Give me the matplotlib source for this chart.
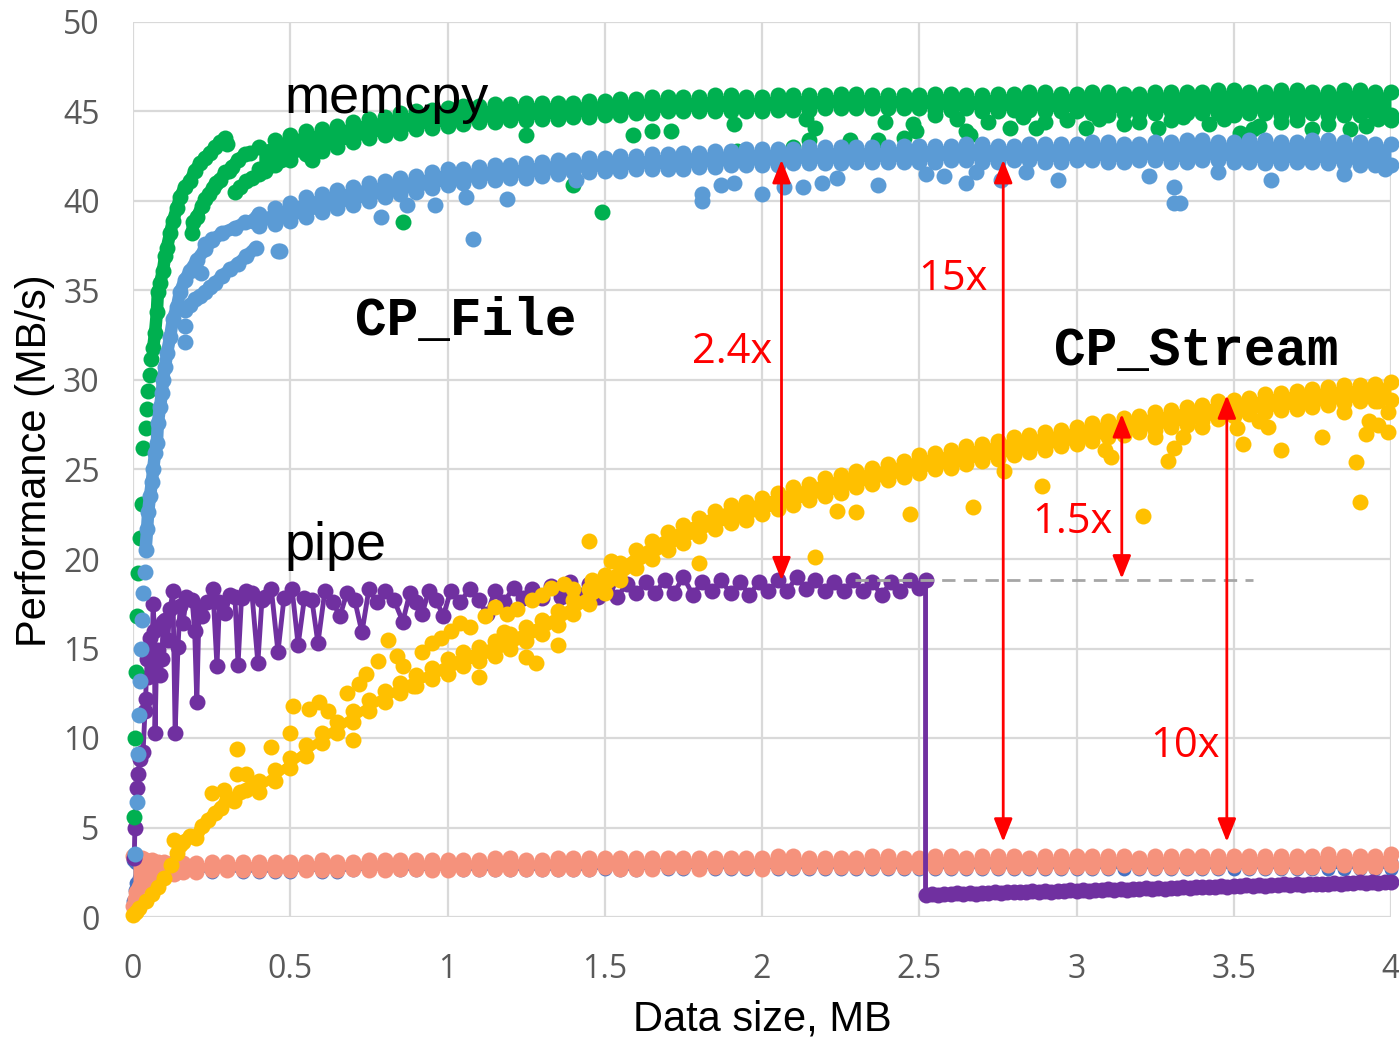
import matplotlib
matplotlib.use("Agg")
import matplotlib.pyplot as plt

# ---------------- data ----------------
x_ticks = [0, 0.5, 1, 1.5, 2, 2.5, 3, 3.5, 4]
x_tick_labels = ["0", "0.5", "1", "1.5", "2", "2.5", "3", "3.5", "4"]
y_ticks = [0, 5, 10, 15, 20, 25, 30, 35, 40, 45, 50]

# common data-size grid for the dense right-hand part of each series (MB)
grid_x = [0.40, 0.45, 0.50, 0.55, 0.60, 0.65, 0.70, 0.75, 0.80, 0.85,
          0.90, 0.95, 1.00, 1.05, 1.10, 1.15, 1.20, 1.25, 1.30, 1.35,
          1.40, 1.45, 1.50, 1.55, 1.60, 1.65, 1.70, 1.75, 1.80, 1.85,
          1.90, 1.95, 2.00, 2.05, 2.10, 2.15, 2.20, 2.25, 2.30, 2.35,
          2.40, 2.45, 2.50, 2.55, 2.60, 2.65, 2.70, 2.75, 2.80, 2.85,
          2.90, 2.95, 3.00, 3.05, 3.10, 3.15, 3.20, 3.25, 3.30, 3.35,
          3.40, 3.45, 3.50, 3.55, 3.60, 3.65, 3.70, 3.75, 3.80, 3.85,
          3.90, 3.95, 4.00]

# memcpy (green)
memcpy_rise_x = [0.003, 0.006, 0.010, 0.013, 0.016, 0.022, 0.029, 0.032, 0.041, 0.045,
                 0.048, 0.054, 0.057, 0.064, 0.070, 0.076, 0.079, 0.086, 0.095, 0.102,
                 0.108, 0.118, 0.127, 0.140, 0.149, 0.165, 0.181, 0.197, 0.213, 0.229,
                 0.245, 0.261, 0.277, 0.293, 0.300]
memcpy_rise_y = [5.6, 10.0, 13.7, 16.8, 19.2, 21.2, 23.1, 26.2, 27.3, 28.4,
                 29.4, 30.3, 31.2, 31.8, 32.6, 33.8, 34.9, 35.4, 36.1, 36.9,
                 37.4, 38.2, 38.9, 39.6, 40.2, 40.8, 41.1, 41.7, 42.1, 42.4,
                 42.7, 43.0, 43.3, 43.5, 43.2]
memcpy_branch_x = [0.188, 0.191, 0.203, 0.219, 0.229, 0.241, 0.254, 0.265, 0.277, 0.293,
                   0.304, 0.315, 0.334, 0.356, 0.372, 0.324, 0.340, 0.360, 0.378, 0.400,
                   0.420, 0.440, 0.461]
memcpy_branch_y = [38.2, 38.8, 39.1, 39.7, 40.1, 40.4, 40.7, 41.0, 41.2, 41.6,
                   41.7, 41.9, 42.3, 42.6, 42.7, 40.5, 40.8, 41.1, 41.3, 41.5,
                   41.7, 42.0, 43.2]
memcpy_hi = [43.0, 43.4, 43.7, 43.9, 44.0, 44.2, 44.4, 44.6, 44.7, 44.9,
             45.0, 45.1, 45.2, 45.3, 45.3, 45.4, 45.4, 45.5, 45.5, 45.5,
             45.5, 45.6, 45.6, 45.7, 45.7, 45.8, 45.8, 45.8, 45.8, 45.9,
             45.9, 45.8, 45.8, 45.9, 45.9, 45.9, 45.9, 46.0, 46.0, 45.9,
             45.9, 45.9, 45.9, 46.0, 46.0, 45.9, 45.9, 46.0, 46.0, 46.1,
             46.1, 46.0, 46.0, 46.1, 46.1, 46.0, 46.0, 46.1, 46.1, 46.1,
             46.1, 46.2, 46.2, 46.1, 46.1, 46.2, 46.2, 46.1, 46.1, 46.2,
             46.2, 46.1, 46.1]
memcpy_lo = [41.8, 42.0, 42.3, 42.6, 42.8, 43.0, 43.3, 43.5, 43.7, 43.8,
             44.0, 44.1, 44.2, 44.3, 44.4, 44.4, 44.5, 44.5, 44.6, 44.6,
             44.7, 44.7, 44.8, 44.8, 44.9, 44.9, 45.0, 45.0, 45.0, 45.0,
             45.0, 45.0, 45.0, 45.1, 45.1, 45.1, 45.2, 45.2, 45.2, 45.2,
             45.2, 45.2, 45.2, 45.1, 45.1, 45.2, 45.0, 45.0, 45.1, 45.1,
             45.0, 45.0, 45.0, 44.9, 45.0, 44.9, 44.9, 44.9, 45.0, 44.9,
             44.9, 44.9, 44.8, 44.9, 44.9, 44.8, 44.8, 44.9, 44.8, 44.8,
             44.8, 44.8, 44.8]
memcpy_out_x = [0.47, 0.57, 0.86, 1.25, 1.40, 1.49, 1.59, 1.65, 1.71, 1.91,
                1.92, 2.10, 2.14, 2.15, 2.17, 2.28, 2.37, 2.39, 2.45, 2.48,
                2.49, 2.65, 2.66, 2.72, 2.79, 2.87, 2.90, 3.03, 3.10, 3.20,
                3.26, 3.34, 3.52, 3.65, 3.75, 3.87, 3.96, 2.55, 2.62, 2.83,
                2.97, 3.07, 3.15, 3.30, 3.42, 3.47, 3.58, 3.70, 3.80, 3.92,
                4.00, 3.56]
memcpy_out_y = [42.3, 42.3, 38.8, 43.7, 40.9, 39.4, 43.7, 43.9, 43.9, 44.3,
                42.8, 43.0, 44.6, 43.4, 44.1, 43.4, 43.4, 44.4, 43.5, 44.3,
                43.9, 43.9, 43.7, 44.4, 44.1, 44.1, 44.4, 44.1, 44.8, 44.4,
                44.1, 44.7, 43.8, 44.4, 44.0, 44.0, 44.6, 44.8, 44.6, 44.7,
                44.5, 44.6, 44.3, 44.5, 44.3, 44.6, 44.2, 44.5, 44.3, 44.2,
                44.5, 44.0]

# CP_File (light blue)
cpfile_rise_x = [0.006, 0.013, 0.016, 0.018, 0.022, 0.026, 0.030, 0.032, 0.038, 0.040,
                 0.045, 0.048, 0.054, 0.060, 0.064, 0.070, 0.076, 0.079, 0.086, 0.092,
                 0.095, 0.102, 0.108, 0.118, 0.127, 0.140, 0.149, 0.165, 0.181, 0.203,
                 0.229, 0.251, 0.283, 0.324, 0.356, 0.380]
cpfile_rise_y = [3.5, 6.4, 9.1, 11.3, 13.2, 15.0, 16.6, 18.1, 19.3, 20.5,
                 21.7, 22.6, 23.5, 24.3, 25.0, 25.9, 26.5, 27.6, 28.5, 29.3,
                 30.0, 30.7, 31.5, 32.4, 33.4, 34.1, 34.9, 35.6, 36.1, 36.7,
                 37.3, 37.8, 38.2, 38.5, 38.8, 38.9]
cpfile_low_x = [0.165, 0.165, 0.165, 0.181, 0.197, 0.213, 0.229, 0.245, 0.260, 0.283,
                0.310, 0.334, 0.360, 0.390, 0.461, 0.230, 0.250, 0.215]
cpfile_low_y = [33.9, 33.0, 32.1, 34.2, 34.5, 34.7, 34.9, 35.2, 35.4, 35.8,
                36.2, 36.5, 36.9, 37.4, 37.2, 37.6, 37.9, 36.0]
cpfile_hi = [39.3, 39.6, 39.9, 40.2, 40.4, 40.6, 40.8, 41.0, 41.1, 41.3,
             41.4, 41.6, 41.8, 41.8, 41.9, 42.0, 42.0, 42.1, 42.2, 42.3,
             42.3, 42.4, 42.4, 42.5, 42.5, 42.6, 42.6, 42.7, 42.7, 42.8,
             42.8, 42.9, 42.9, 42.9, 42.9, 43.0, 43.0, 43.0, 43.0, 43.0,
             43.0, 43.1, 43.1, 43.1, 43.1, 43.2, 43.2, 43.1, 43.1, 43.2,
             43.2, 43.2, 43.2, 43.3, 43.3, 43.2, 43.2, 43.3, 43.3, 43.4,
             43.4, 43.3, 43.3, 43.4, 43.4, 43.3, 43.3, 43.4, 43.4, 43.3,
             43.3, 43.2, 43.2]
cpfile_lo = [38.6, 38.7, 38.9, 39.1, 39.4, 39.6, 39.8, 40.0, 40.2, 40.4,
             40.5, 40.7, 40.9, 41.0, 41.1, 41.2, 41.3, 41.3, 41.4, 41.5,
             41.6, 41.6, 41.7, 41.7, 41.8, 41.8, 41.8, 41.8, 41.9, 41.9,
             42.0, 42.0, 42.0, 42.0, 42.1, 42.1, 42.1, 42.1, 42.2, 42.2,
             42.2, 42.2, 42.2, 42.2, 42.3, 42.3, 42.2, 42.2, 42.3, 42.3,
             42.2, 42.2, 42.3, 42.3, 42.2, 42.2, 42.3, 42.3, 42.2, 42.2,
             42.3, 42.3, 42.2, 42.2, 42.1, 42.1, 42.2, 42.2, 42.1, 42.1,
             42.0, 42.0, 42.0]
cpfile_out_x = [0.467, 0.79, 0.87, 0.96, 1.06, 1.08, 1.19, 1.41, 1.81, 1.81,
                1.87, 1.91, 2.00, 2.07, 2.13, 2.19, 2.24, 2.37, 2.52, 2.58,
                2.65, 2.68, 2.76, 2.84, 2.94, 3.23, 3.31, 3.31, 3.33, 3.45,
                3.62, 3.85, 3.98]
cpfile_out_y = [37.2, 39.1, 39.8, 39.8, 40.2, 37.9, 40.1, 41.2, 40.4, 40.0,
                40.9, 41.0, 40.4, 40.8, 40.8, 41.0, 41.3, 40.9, 41.5, 41.4,
                41.0, 41.6, 41.2, 41.6, 41.2, 41.4, 40.8, 39.9, 39.9, 41.6,
                41.2, 41.5, 41.8]

# CP_Stream (yellow)
cpstream_rise_x = [0.000, 0.010, 0.020, 0.040, 0.060, 0.080, 0.100, 0.120, 0.140, 0.160,
                   0.180, 0.200, 0.220, 0.240, 0.260, 0.280, 0.300, 0.320, 0.340, 0.360,
                   0.380]
cpstream_rise_y = [0.1, 0.3, 0.5, 0.9, 1.3, 1.7, 2.2, 2.9, 3.6, 4.2,
                   4.5, 4.4, 5.1, 5.4, 5.8, 6.1, 6.6, 6.5, 7.0, 7.1,
                   7.4]
cpstream_hi = [7.6, 8.2, 8.9, 9.6, 10.3, 10.9, 11.5, 12.1, 12.6, 13.1,
               13.5, 13.9, 14.4, 14.8, 15.1, 15.4, 15.8, 16.2, 16.6, 17.1,
               17.7, 18.3, 19.1, 19.8, 20.5, 21.0, 21.5, 21.9, 22.3, 22.7,
               23.0, 23.2, 23.4, 23.7, 24.0, 24.2, 24.5, 24.7, 24.9, 25.1,
               25.3, 25.5, 25.8, 25.9, 26.1, 26.3, 26.4, 26.6, 26.8, 26.9,
               27.1, 27.2, 27.4, 27.6, 27.7, 27.9, 28.0, 28.2, 28.3, 28.5,
               28.6, 28.8, 28.9, 29.0, 29.2, 29.3, 29.4, 29.5, 29.6, 29.7,
               29.7, 29.8, 29.9]
cpstream_lo = [7.0, 7.6, 8.3, 9.0, 9.7, 10.3, 10.9, 11.5, 12.0, 12.5,
               12.9, 13.3, 13.6, 14.0, 14.3, 14.6, 15.0, 15.4, 15.8, 16.3,
               16.9, 17.5, 18.1, 18.8, 19.5, 20.0, 20.5, 20.9, 21.3, 21.7,
               22.0, 22.2, 22.5, 22.8, 23.0, 23.3, 23.5, 23.7, 24.0, 24.2,
               24.4, 24.6, 24.8, 25.0, 25.1, 25.3, 25.5, 25.6, 25.8, 26.0,
               26.1, 26.3, 26.4, 26.6, 26.8, 26.9, 27.1, 27.2, 27.4, 27.5,
               27.7, 27.8, 28.0, 28.1, 28.2, 28.3, 28.4, 28.5, 28.6, 28.7,
               28.8, 28.8, 28.9]
cpstream_out_x = [0.13, 0.15, 0.25, 0.29, 0.33, 0.36, 0.33, 0.44, 0.50, 0.51,
                  0.56, 0.59, 0.62, 0.68, 0.70, 0.72, 0.74, 0.78, 0.81, 0.84,
                  0.86, 0.89, 0.92, 0.95, 0.98, 1.01, 1.04, 1.07, 1.10, 1.12,
                  1.15, 1.18, 1.19, 1.22, 1.25, 1.27, 1.28, 1.30, 1.33, 1.35,
                  1.37, 1.40, 1.45, 1.46, 1.52, 1.80, 2.17, 2.24, 2.30, 2.47,
                  2.67, 2.77, 2.89, 3.09, 3.11, 3.21, 3.25, 3.29, 3.31, 3.34,
                  3.40, 3.51, 3.53, 3.58, 3.61, 3.65, 3.78, 3.85, 3.89, 3.90,
                  3.92, 3.93, 3.96, 3.99, 3.99, 3.96]
cpstream_out_y = [4.3, 4.0, 6.9, 7.1, 8.0, 8.0, 9.4, 9.5, 10.3, 11.8,
                  11.6, 12.0, 11.5, 12.5, 9.9, 13.0, 13.6, 14.3, 15.5, 14.6,
                  14.0, 12.9, 14.8, 15.3, 15.6, 16.0, 16.4, 16.2, 13.4, 16.8,
                  17.3, 15.9, 16.9, 17.2, 14.5, 17.7, 14.2, 18.0, 18.4, 15.2,
                  18.6, 18.3, 21.0, 18.8, 19.9, 19.8, 20.1, 22.7, 22.6, 22.5,
                  22.9, 24.9, 24.1, 26.1, 25.7, 22.4, 26.8, 25.5, 26.2, 26.8,
                  27.4, 27.3, 26.4, 27.7, 27.4, 26.1, 26.8, 28.2, 25.4, 23.2,
                  27.0, 27.7, 27.5, 27.1, 28.2, 28.8]

# pipe (purple, connected): high part, then the low part after the drop
pipe_x = [0.004, 0.006, 0.013, 0.016, 0.022, 0.032, 0.038, 0.040, 0.045, 0.048,
          0.054, 0.060, 0.064, 0.068, 0.070, 0.075, 0.080, 0.086, 0.092, 0.096,
          0.102, 0.110, 0.118, 0.127, 0.134, 0.143, 0.150, 0.159, 0.170, 0.188,
          0.196, 0.203, 0.210, 0.219, 0.235, 0.254, 0.267, 0.275, 0.293, 0.310,
          0.324, 0.334, 0.345, 0.360, 0.378, 0.397, 0.410, 0.420, 0.440, 0.461,
          0.480, 0.506, 0.525, 0.545, 0.569, 0.588, 0.610, 0.635, 0.658, 0.680,
          0.705, 0.728, 0.750, 0.775, 0.800, 0.830, 0.858, 0.880, 0.900, 0.919,
          0.940, 0.965, 0.986, 1.010, 1.040, 1.070, 1.100, 1.126, 1.150, 1.180,
          1.210, 1.240, 1.270, 1.300, 1.330, 1.360, 1.390, 1.420, 1.450, 1.480,
          1.510, 1.540, 1.570, 1.600, 1.630, 1.660, 1.690, 1.720, 1.750, 1.780,
          1.810, 1.840, 1.870, 1.900, 1.930, 1.960, 1.990, 2.020, 2.050, 2.080,
          2.110, 2.140, 2.170, 2.200, 2.230, 2.260, 2.290, 2.320, 2.350, 2.380,
          2.410, 2.440, 2.470, 2.500, 2.520]
pipe_y = [3.3, 5.0, 7.2, 8.0, 8.8, 9.2, 11.5, 12.2, 14.4, 13.4,
          15.6, 14.2, 17.5, 16.0, 10.3, 14.5, 14.9, 13.5, 14.4, 16.5,
          16.6, 15.5, 17.2, 18.2, 10.3, 15.1, 17.4, 16.4, 17.9, 17.7,
          16.0, 12.0, 17.2, 16.8, 17.6, 18.3, 14.0, 17.6, 17.0, 18.0,
          17.9, 14.1, 17.8, 18.2, 18.1, 14.2, 17.7, 17.9, 18.3, 14.8,
          17.8, 18.3, 15.2, 17.8, 17.7, 15.3, 18.2, 17.6, 16.8, 18.1,
          17.7, 15.9, 18.3, 17.6, 18.2, 17.7, 16.5, 18.1, 17.6, 16.9,
          18.2, 17.7, 16.8, 18.2, 17.6, 18.3, 17.7, 16.9, 18.2, 17.6,
          18.4, 17.8, 18.3, 17.8, 18.5, 17.9, 18.7, 18.0, 18.6, 17.9,
          18.6, 17.9, 18.6, 18.1, 18.7, 18.1, 18.8, 18.1, 19.0, 18.0,
          18.7, 18.2, 18.8, 18.1, 18.7, 18.0, 18.7, 18.2, 18.8, 18.2,
          19.0, 18.3, 18.8, 18.2, 18.7, 18.2, 18.8, 18.2, 18.7, 18.0,
          18.7, 18.2, 18.8, 18.4, 18.8]
pipe_low_x = [2.52, 2.54, 2.56, 2.58, 2.60, 2.62, 2.64, 2.66, 2.68, 2.70,
              2.72, 2.74, 2.76, 2.78, 2.80, 2.82, 2.84, 2.86, 2.88, 2.90,
              2.92, 2.94, 2.96, 2.98, 3.00, 3.02, 3.04, 3.06, 3.08, 3.10,
              3.12, 3.14, 3.16, 3.18, 3.20, 3.22, 3.24, 3.26, 3.28, 3.30,
              3.32, 3.34, 3.36, 3.38, 3.40, 3.42, 3.44, 3.46, 3.48, 3.50,
              3.52, 3.54, 3.56, 3.58, 3.60, 3.62, 3.64, 3.66, 3.68, 3.70,
              3.72, 3.74, 3.76, 3.78, 3.80, 3.82, 3.84, 3.86, 3.88, 3.90,
              3.92, 3.94, 3.96, 3.98, 4.00]
pipe_low_y = [1.25, 1.30, 1.24, 1.29, 1.28, 1.33, 1.28, 1.33, 1.31, 1.36,
              1.33, 1.38, 1.34, 1.39, 1.37, 1.41, 1.38, 1.43, 1.41, 1.45,
              1.42, 1.47, 1.44, 1.49, 1.46, 1.51, 1.48, 1.53, 1.50, 1.55,
              1.52, 1.57, 1.53, 1.58, 1.56, 1.60, 1.57, 1.62, 1.59, 1.64,
              1.61, 1.66, 1.63, 1.68, 1.65, 1.70, 1.67, 1.72, 1.69, 1.74,
              1.71, 1.76, 1.72, 1.77, 1.75, 1.79, 1.77, 1.82, 1.79, 1.84,
              1.81, 1.86, 1.82, 1.87, 1.85, 1.89, 1.86, 1.91, 1.88, 1.93,
              1.90, 1.95, 1.92, 1.97, 1.96]

# low series: salmon and dark blue
salmon_rise_x = [0.000, 0.005, 0.010, 0.020, 0.030, 0.040, 0.060, 0.080, 0.100, 0.130,
                 0.160, 0.200, 0.250, 0.300, 0.350]
salmon_rise_hi = [3.4, 3.4, 3.3, 3.3, 3.3, 3.2, 3.2, 3.1, 3.1, 3.1,
                  3.0, 3.0, 3.1, 3.1, 3.1]
salmon_rise_lo = [0.6, 1.0, 1.4, 1.7, 1.9, 2.0, 2.2, 2.3, 2.4, 2.4,
                  2.5, 2.5, 2.6, 2.6, 2.6]
salmon_hi = [3.1, 3.1, 3.1, 3.1, 3.2, 3.1, 3.1, 3.2, 3.2, 3.2,
             3.2, 3.2, 3.2, 3.2, 3.2, 3.3, 3.3, 3.2, 3.2, 3.3,
             3.3, 3.3, 3.3, 3.3, 3.3, 3.3, 3.3, 3.3, 3.3, 3.3,
             3.3, 3.3, 3.3, 3.4, 3.4, 3.3, 3.3, 3.3, 3.3, 3.4,
             3.4, 3.3, 3.3, 3.4, 3.4, 3.3, 3.4, 3.4, 3.4, 3.3,
             3.4, 3.4, 3.4, 3.4, 3.4, 3.4, 3.3, 3.4, 3.4, 3.4,
             3.4, 3.4, 3.4, 3.4, 3.4, 3.4, 3.4, 3.4, 3.5, 3.4,
             3.4, 3.4, 3.5]
salmon_lo = [2.6, 2.6, 2.6, 2.6, 2.6, 2.6, 2.7, 2.6, 2.6, 2.7,
             2.7, 2.6, 2.6, 2.7, 2.7, 2.7, 2.7, 2.7, 2.7, 2.7,
             2.7, 2.7, 2.8, 2.7, 2.7, 2.7, 2.8, 2.8, 2.7, 2.8,
             2.8, 2.8, 2.7, 2.8, 2.8, 2.8, 2.8, 2.8, 2.8, 2.8,
             2.8, 2.8, 2.8, 2.8, 2.8, 2.8, 2.8, 2.8, 2.8, 2.8,
             2.8, 2.8, 2.8, 2.8, 2.8, 2.9, 2.8, 2.8, 2.8, 2.8,
             2.8, 2.8, 2.9, 2.8, 2.8, 2.8, 2.8, 2.8, 2.9, 2.9,
             2.8, 2.8, 2.9]
darkblue_rise_x = [0.000, 0.005, 0.010, 0.020, 0.040, 0.080, 0.150, 0.250, 0.350]
darkblue_rise_hi = [3.2, 3.1, 3.0, 2.9, 2.9, 2.9, 2.9, 2.9, 2.9]
darkblue_rise_lo = [0.9, 1.5, 1.9, 2.2, 2.4, 2.5, 2.5, 2.5, 2.5]
darkblue_hi = [2.9, 2.9, 2.9, 2.9, 2.9, 2.9, 2.9, 2.9, 2.9, 2.9,
               3.0, 3.0, 3.0, 3.0, 3.0, 3.0, 3.0, 3.0, 3.0, 3.0,
               3.0, 3.0, 3.0, 3.0, 3.0, 3.0, 3.0, 3.0, 3.0, 3.0,
               3.1, 3.0, 3.0, 3.0, 3.1, 3.0, 3.0, 3.0, 3.1, 3.0,
               3.1, 3.1, 3.1, 3.1, 3.1, 3.1, 3.1, 3.1, 3.1, 3.1,
               3.1, 3.1, 3.1, 3.1, 3.1, 3.1, 3.1, 3.1, 3.1, 3.1,
               3.1, 3.1, 3.1, 3.1, 3.1, 3.1, 3.1, 3.1, 3.1, 3.1,
               3.1, 3.1, 3.1]
darkblue_lo = [2.5, 2.5, 2.5, 2.6, 2.5, 2.5, 2.6, 2.6, 2.6, 2.6,
               2.6, 2.6, 2.6, 2.6, 2.6, 2.6, 2.6, 2.6, 2.6, 2.6,
               2.6, 2.6, 2.7, 2.6, 2.6, 2.7, 2.7, 2.7, 2.7, 2.7,
               2.7, 2.7, 2.7, 2.7, 2.7, 2.7, 2.7, 2.7, 2.7, 2.7,
               2.7, 2.7, 2.7, 2.7, 2.7, 2.7, 2.7, 2.7, 2.7, 2.7,
               2.7, 2.7, 2.7, 2.7, 2.7, 2.7, 2.7, 2.7, 2.7, 2.7,
               2.7, 2.7, 2.7, 2.7, 2.7, 2.7, 2.7, 2.7, 2.7, 2.7,
               2.7, 2.7, 2.7]

# annotations
arrow_x = [2.062, 2.767, 3.144, 3.478]
arrow_top = [42.3, 42.3, 28.1, 29.15]
arrow_bottom = [18.8, 4.2, 18.9, 4.2]
ratio_labels = ["2.4x", "15x", "1.5x", "10x"]
ratio_label_x = [1.777, 2.496, 2.859, 3.234]
ratio_label_y = [30.95, 35.03, 21.45, 8.94]
dash_x = [2.296, 3.561]
dash_y = [18.8, 18.8]

GREEN = "#00B050"
LBLUE = "#5B9BD5"
YELLOW = "#FFC000"
PURPLE = "#7030A0"
SALMON = "#F5927C"
DBLUE = "#4472C4"

# ---------------- figure ----------------
W, H = 1399, 1041
fig = plt.figure(figsize=(W / 100, H / 100), dpi=100)
ax = fig.add_axes([133 / W, 124 / H, 1258 / W, 895 / H])
ax.set_xlim(0, 4)
ax.set_ylim(0, 50)
ax.set_xticks(x_ticks)
ax.set_xticklabels(x_tick_labels)
ax.set_yticks(y_ticks)
for s in ax.spines.values():
    s.set_visible(False)
ax.grid(True, color="#D9D9D9", lw=1.6)
ax.set_axisbelow(True)
ax.tick_params(length=0, labelsize=23, labelcolor="#595959")
ax.tick_params(axis="x", pad=26)
ax.tick_params(axis="y", pad=24)
for lab in ax.get_xticklabels() + ax.get_yticklabels():
    lab.set_fontfamily("Open Sans")

MS = 11.5


def dots(x, y, color, z, ms=MS):
    ax.plot(x, y, ls="none", marker="o", ms=ms, mew=0, color=color, zorder=z,
            clip_on=False)


def band(x, lo, hi, color, z, ms=MS):
    ax.fill_between(x, lo, hi, color=color, lw=0, zorder=z)
    dots(x, hi, color, z, ms)
    dots(x, lo, color, z, ms)


def thread(x, y, color, z, lw=9.0):
    ax.plot(x, y, color=color, lw=lw, zorder=z, solid_capstyle="round",
            solid_joinstyle="round", clip_on=False)


# dark blue (bottom, mostly hidden)
band(darkblue_rise_x + grid_x, darkblue_rise_lo + darkblue_lo,
     darkblue_rise_hi + darkblue_hi, DBLUE, 2, ms=10)
# salmon
band(salmon_rise_x + grid_x, salmon_rise_lo + salmon_lo,
     salmon_rise_hi + salmon_hi, SALMON, 3, ms=11.5)
# pipe
ax.plot(pipe_x + pipe_low_x, pipe_y + pipe_low_y, color=PURPLE, lw=3.5, marker="o",
        ms=11.5, mew=0, zorder=4, clip_on=False)
# CP_Stream
dots(cpstream_rise_x, cpstream_rise_y, YELLOW, 5)
thread(cpstream_rise_x[8:] + grid_x[:1], cpstream_rise_y[8:] + cpstream_lo[:1], YELLOW, 5)
band(grid_x, cpstream_lo, cpstream_hi, YELLOW, 5)
dots(cpstream_out_x, cpstream_out_y, YELLOW, 5)
# memcpy
dots(memcpy_rise_x, memcpy_rise_y, GREEN, 6)
thread(memcpy_rise_x[13:], memcpy_rise_y[13:], GREEN, 6)
dots(memcpy_branch_x, memcpy_branch_y, GREEN, 6)
thread(memcpy_branch_x[:15], memcpy_branch_y[:15], GREEN, 6)
band(grid_x, memcpy_lo, memcpy_hi, GREEN, 6)
dots(memcpy_out_x, memcpy_out_y, GREEN, 6)
# CP_File
dots(cpfile_rise_x, cpfile_rise_y, LBLUE, 7)
thread(cpfile_rise_x[9:] + grid_x[:1], cpfile_rise_y[9:] + cpfile_hi[:1], LBLUE, 7)
dots(cpfile_low_x, cpfile_low_y, LBLUE, 7)
thread(cpfile_low_x[3:14], cpfile_low_y[3:14], LBLUE, 7)
band(grid_x, cpfile_lo, cpfile_hi, LBLUE, 7)
dots(cpfile_out_x, cpfile_out_y, LBLUE, 7)

# dashed reference line
ax.plot(dash_x, dash_y, color="#A6A6A6", lw=2.0, dashes=(4.8, 3.0), zorder=8)

# red arrows and ratio labels
for xa, yt, yb in zip(arrow_x, arrow_top, arrow_bottom):
    ax.annotate("", xy=(xa, yt), xytext=(xa, yb),
                arrowprops=dict(arrowstyle="<|-|>,head_length=0.7,head_width=0.28",
                                color="#FF0000", lw=2.0, shrinkA=0, shrinkB=0,
                                mutation_scale=20), zorder=9)
for t, xl, yl in zip(ratio_labels, ratio_label_x, ratio_label_y):
    ax.text(xl, yl, t, color="#FF0000", fontsize=30, family="Open Sans",
            ha="left", va="baseline", zorder=10)

# series names
ax.text(0.483, 44.9, "memcpy", fontsize=39, family="Liberation Sans",
        ha="left", va="baseline", zorder=10)
ax.text(0.483, 19.94, "pipe", fontsize=39, family="Liberation Sans",
        ha="left", va="baseline", zorder=10)
ax.text(0.706, 32.5, "CP_File", fontsize=38, family="Liberation Mono",
        fontweight="bold", ha="left", va="baseline", zorder=10)
ax.text(2.93, 30.84, "CP_Stream", fontsize=38, family="Liberation Mono",
        fontweight="bold", ha="left", va="baseline", zorder=10)

# axis titles
fig.text(762 / W, 1 - 1020 / H, "Data size, MB", fontsize=30,
         family="Liberation Sans", ha="center", va="center")
fig.text(35 / W, 1 - 461 / H, "Performance (MB/s)", fontsize=30,
         family="Liberation Sans", ha="center", va="center", rotation=90)

fig.savefig("out.png", dpi=100)
